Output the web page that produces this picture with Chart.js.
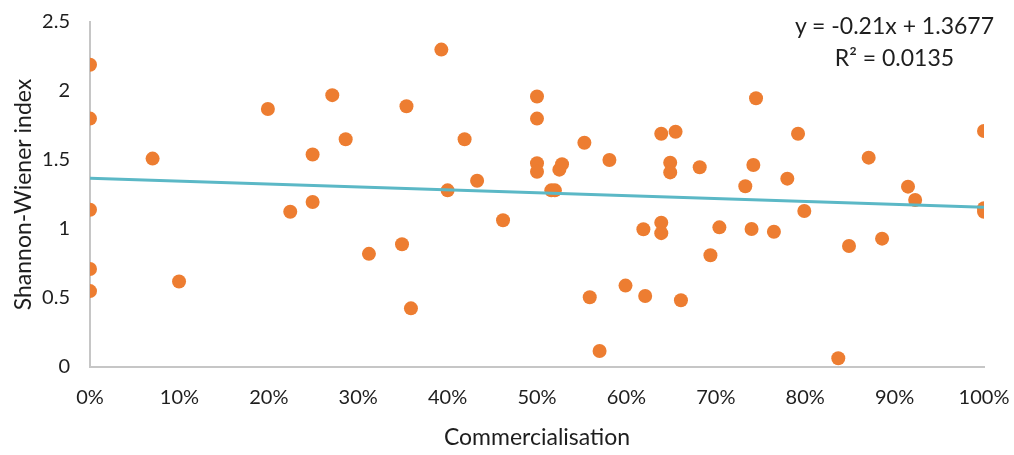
<!DOCTYPE html>
<html>
<head>
<meta charset="utf-8">
<script src="https://cdn.jsdelivr.net/npm/chart.js@4.4.1/dist/chart.umd.min.js"></script>
<style>
  html, body { margin: 0; padding: 0; background: #fff; }
  #wrap { position: relative; width: 1014px; height: 455px; }
  #eq { position: absolute; right: 20px; top: 9px; text-align: center;
        font-family: Lato, "Open Sans", sans-serif; font-size: 23px; line-height: 32px; color: #1e1e1e; }
</style>
</head>
<body>
<div id="wrap">
  <canvas id="c" width="1014" height="455"></canvas>
  <div id="eq">y = -0.21x + 1.3677<br>R² = 0.0135</div>
</div>
<script>
/* Shannon-Wiener index vs commercialisation, with linear trend */

const ORANGE = "#ED7D31";
const TEAL = "#5BB8C6";
const AXIS = "#c6c6c6";
const TEXT = "#1e1e1e";
const FONT = "Lato, 'Open Sans', sans-serif";

// commercialisation share (0..1)
const commX = [
  0, 0, 0, 0, 0, 0.07, 0.0996, 0.199, 0.224, 0.249,
  0.249, 0.271, 0.286, 0.312, 0.349, 0.354, 0.359, 0.393, 0.400, 0.419,
  0.433, 0.462, 0.50, 0.50, 0.50, 0.50, 0.516, 0.520, 0.525, 0.528,
  0.553, 0.559, 0.570, 0.581, 0.599, 0.619, 0.621, 0.639, 0.639, 0.639,
  0.655, 0.649, 0.649, 0.661, 0.682, 0.694, 0.704, 0.733, 0.740, 0.742,
  0.745, 0.765, 0.780, 0.792, 0.799, 0.837, 0.849, 0.871, 0.886, 0.915,
  0.923, 1.0, 1.0, 1.0
];
// Shannon-Wiener index
const shannon = [
  2.19, 1.80, 1.14, 0.71, 0.55, 1.51, 0.62, 1.87, 1.125, 1.54,
  1.196, 1.97, 1.65, 0.82, 0.89, 1.89, 0.425, 2.30, 1.28, 1.65,
  1.35, 1.063, 1.96, 1.80, 1.476, 1.415, 1.28, 1.28, 1.43, 1.47,
  1.625, 0.505, 0.116, 1.50, 0.59, 0.998, 0.515, 1.69, 1.046, 0.97,
  1.705, 1.48, 1.41, 0.484, 1.447, 0.81, 1.012, 1.31, 1.0, 1.464,
  1.947, 0.98, 1.365, 1.69, 1.13, 0.063, 0.877, 1.517, 0.93, 1.307,
  1.21, 1.71, 1.15, 1.125
];
// trend line end points (y = -0.21x + 1.3677)
const trendX = [0, 1];
const trendY = [1.3677, 1.1577];

const xTicks = [0, 0.1, 0.2, 0.3, 0.4, 0.5, 0.6, 0.7, 0.8, 0.9, 1];
const yTicks = [0, 0.5, 1, 1.5, 2, 2.5];

const pts = commX.map((x, i) => ({ x, y: shannon[i] }));
const trend = trendX.map((x, i) => ({ x, y: trendY[i] }));

new Chart(document.getElementById("c"), {
  type: "scatter",
  data: {
    datasets: [
      { label: "Trend", data: trend, showLine: true, borderColor: TEAL, borderWidth: 3,
        pointRadius: 0, order: 0 },
      { label: "Shannon-Wiener", data: pts, backgroundColor: ORANGE, borderColor: ORANGE,
        borderWidth: 0, pointRadius: 7, order: 1 },
    ],
  },
  options: {
    responsive: false, animation: false,
    layout: { padding: { top: 22, right: 30, left: 0, bottom: 0 } },
    plugins: { legend: { display: false }, tooltip: { enabled: false } },
    scales: {
      x: {
        type: "linear", min: 0, max: 1,
        afterBuildTicks: a => { a.ticks = xTicks.map(v => ({ value: v })); },
        afterFit: a => { a.height = 88; a.paddingLeft = 0; a.paddingRight = 0; },
        grid: { display: false, drawTicks: false },
        border: { color: AXIS, width: 2 },
        ticks: { padding: 19, color: TEXT, font: { family: FONT, size: 20 },
          callback: v => Math.round(v * 100) + "%" },
        title: { display: true, text: "Commercialisation", color: TEXT,
          font: { family: FONT, size: 23 }, padding: { top: 9 } },
      },
      y: {
        min: 0, max: 2.5,
        afterBuildTicks: a => { a.ticks = yTicks.map(v => ({ value: v })); },
        afterFit: a => { a.width = 90; a.paddingTop = 0; a.paddingBottom = 0; },
        grid: { display: false, drawTicks: false },
        border: { color: AXIS, width: 2 },
        ticks: { padding: 20, color: TEXT, font: { family: FONT, size: 20 },
          callback: v => String(v) },
        title: { display: true, text: "Shannon-Wiener index", color: TEXT,
          font: { family: FONT, size: 23 }, padding: { top: 10, bottom: 0 } },
      },
    },
  },
});
</script>
</body>
</html>
